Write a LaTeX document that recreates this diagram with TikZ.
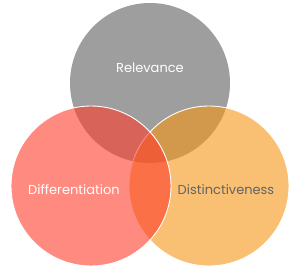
\documentclass[tikz,border=0pt]{standalone}
\usepackage{fontspec}
\setmainfont{Poppins}
\usepackage{tikz}

\definecolor{relgray}{RGB}{158,158,158}
\definecolor{difred}{RGB}{255,60,43}
\definecolor{disorange}{RGB}{245,148,20}
\definecolor{distext}{RGB}{100,100,100}

\begin{document}
\begin{tikzpicture}[x=1pt, y=1pt,
    venn/.style={draw=white, line width=0.9pt, fill opacity=0.6},
    label/.style={font=\fontsize{13}{15}\selectfont}]
  \useasboundingbox (0,0) rectangle (300,270);

  % The circle of relevance
  \fill[relgray] (150,187) circle (80);
  \node[label, white] (rel) at (150,202) {Relevance};

  % The circle of distinctiveness
  \draw[venn, fill=disorange] (209,84) circle (80);
  \node[label, distext] (dis) at (226,80) {Distinctiveness};

  % The circle of differentiation
  \draw[venn, fill=difred] (91,84) circle (80);
  \node[label, white] (dif) at (74,80) {Differentiation};

\end{tikzpicture}
\end{document}
